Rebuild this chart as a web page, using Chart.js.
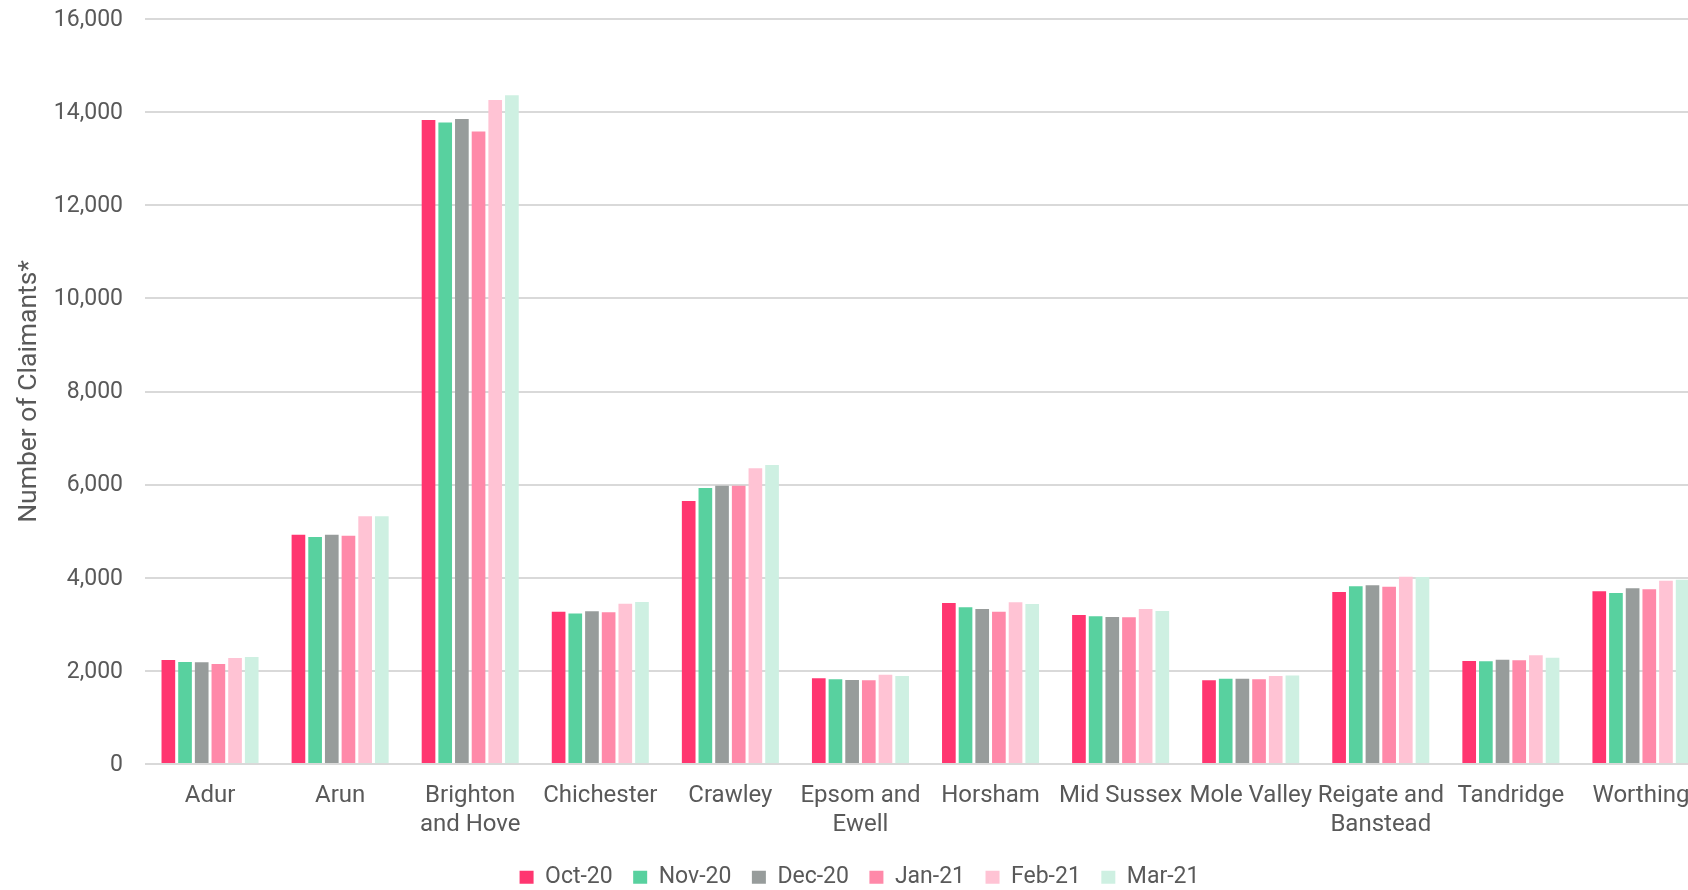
<!DOCTYPE html>
<html>
<head>
<meta charset="utf-8">
<title>Number of Claimants by District</title>
<script src="https://cdn.jsdelivr.net/npm/chart.js@4/dist/chart.umd.min.js"></script>
<style>
  html, body { margin: 0; padding: 0; background: #ffffff; overflow: hidden; }
  #wrap { position: relative; width: 1720px; height: 890px; }
</style>
</head>
<body>
<div id="wrap"><canvas id="chart"></canvas></div>
<script>
// Districts along the category axis (multi-line names as arrays)
const districts = [
  'Adur', 'Arun', ['Brighton', 'and Hove'], 'Chichester', 'Crawley',
  ['Epsom and', 'Ewell'], 'Horsham', 'Mid Sussex', 'Mole Valley',
  ['Reigate and', 'Banstead'], 'Tandridge', 'Worthing'
];

// Monthly claimant counts, one array per month
const months = ['Oct-20', 'Nov-20', 'Dec-20', 'Jan-21', 'Feb-21', 'Mar-21'];
const oct20 = [2234, 4925, 13833, 3270, 5649, 1840, 3458, 3200, 1797, 3695, 2212, 3709];
const nov20 = [2191, 4876, 13776, 3230, 5928, 1819, 3365, 3172, 1833, 3816, 2205, 3673];
const dec20 = [2184, 4925, 13855, 3280, 5978, 1804, 3329, 3158, 1833, 3838, 2241, 3773];
const jan21 = [2148, 4904, 13582, 3258, 5978, 1797, 3272, 3150, 1819, 3809, 2227, 3752];
const feb21 = [2277, 5320, 14263, 3444, 6351, 1919, 3473, 3329, 1890, 4024, 2335, 3938];
const mar21 = [2298, 5320, 14364, 3480, 6422, 1890, 3437, 3286, 1898, 4017, 2284, 3959];

// Value axis range and tick step
const yMin = 0;
const yMax = 16000;
const yStep = 2000;

const seriesValues = [oct20, nov20, dec20, jan21, feb21, mar21];
const seriesColors = ['#FF3670', '#58D19F', '#979C9B', '#FF89A9', '#FFC3D4', '#CEF0E2'];

const textColor = '#595959';
const gridColor = '#D9D9D9';
const fontFamily = 'Roboto, "Noto Sans", sans-serif';

// Keeps the legend row compact below the category labels
const compactLegend = {
  id: 'compactLegend',
  afterInit(chart) {
    const legend = chart.legend;
    if (!legend) return;
    const fit = legend.fit;
    legend.fit = function () {
      fit.call(this);
      this.height = 44.7;
    };
  }
};

const ctx = document.getElementById('chart').getContext('2d');
new Chart(ctx, {
  type: 'bar',
  data: {
    labels: districts,
    datasets: months.map((m, i) => ({
      label: m,
      data: seriesValues[i],
      backgroundColor: seriesColors[i],
      borderWidth: 0,
      barPercentage: 0.82,
      categoryPercentage: 0.769
    }))
  },
  plugins: [compactLegend],
  options: {
    responsive: true,
    maintainAspectRatio: false,
    animation: false,
    devicePixelRatio: 1,
    layout: { padding: { top: 19, left: 13, right: 14, bottom: 0 } },
    plugins: {
      tooltip: { enabled: false },
      legend: {
        position: 'bottom',
        align: 'center',
        labels: {
          boxWidth: 14,
          boxHeight: 13,
          padding: 20.5,
          color: textColor,
          font: { family: fontFamily, size: 23 }
        }
      }
    },
    scales: {
      x: {
        type: 'category',
        afterFit(scale) { scale.height = 81.3; },
        grid: { display: false, drawTicks: false },
        border: { display: false },
        ticks: {
          autoSkip: false,
          maxRotation: 0,
          minRotation: 0,
          padding: 17.6,
          color: textColor,
          font: { family: fontFamily, size: 24 }
        }
      },
      y: {
        min: yMin,
        max: yMax,
        afterFit(scale) {
          scale.width = 132;
          scale.paddingTop = 0;
          scale.paddingBottom = 0;
        },
        grid: { color: gridColor, lineWidth: 2, drawTicks: false },
        border: { display: false },
        ticks: {
          stepSize: yStep,
          padding: 22,
          labelOffset: 1,
          color: textColor,
          font: { family: fontFamily, size: 23 },
          callback: (v) => v.toLocaleString('en-US')
        },
        title: {
          display: true,
          text: 'Number of Claimants*',
          color: textColor,
          font: { family: fontFamily, size: 26.5 },
          padding: { top: 0, bottom: 0 }
        }
      }
    }
  }
});
</script>
</body>
</html>
